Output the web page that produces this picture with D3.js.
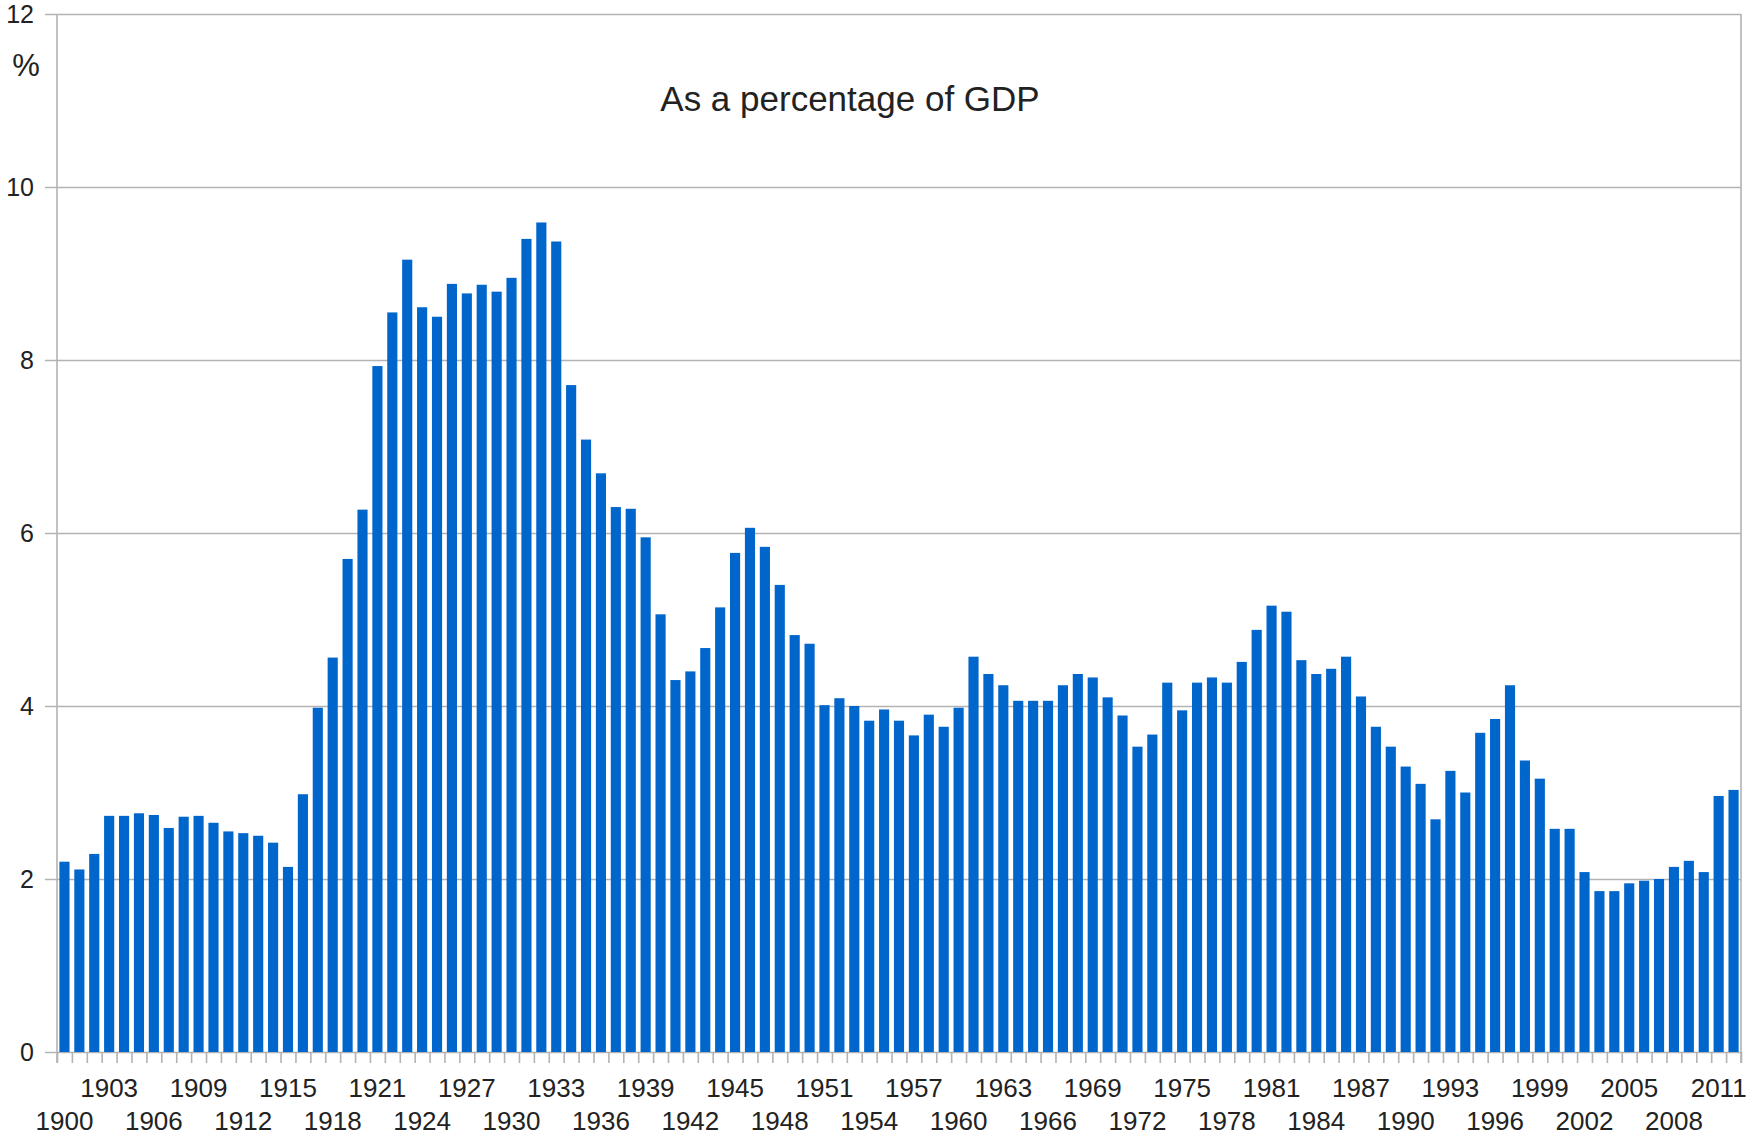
<!DOCTYPE html>
<html>
<head>
<meta charset="utf-8">
<script src="https://cdn.jsdelivr.net/npm/d3@7"></script>
<style>
  body { margin: 0; background: #fff; }
  svg { display: block; }
</style>
</head>
<body>
<script>
// Years and values (% of GDP)
const years = d3.range(1900, 2013);
const values = [
    2.20, 2.11, 2.29, 2.73, 2.73, 2.76, 2.74, 2.59, 2.72, 2.73,
    2.65, 2.55, 2.53, 2.50, 2.42, 2.14, 2.98, 3.98, 4.56, 5.70,
    6.27, 7.93, 8.55, 9.16, 8.61, 8.50, 8.88, 8.77, 8.87, 8.79,
    8.95, 9.40, 9.59, 9.37, 7.71, 7.08, 6.69, 6.30, 6.28, 5.95,
    5.06, 4.30, 4.40, 4.67, 5.14, 5.77, 6.06, 5.84, 5.40, 4.82,
    4.72, 4.01, 4.09, 4.00, 3.83, 3.96, 3.83, 3.66, 3.90, 3.76,
    3.98, 4.57, 4.37, 4.24, 4.06, 4.06, 4.06, 4.24, 4.37, 4.33,
    4.10, 3.89, 3.53, 3.67, 4.27, 3.95, 4.27, 4.33, 4.27, 4.51,
    4.88, 5.16, 5.09, 4.53, 4.37, 4.43, 4.57, 4.11, 3.76, 3.53,
    3.30, 3.10, 2.69, 3.25, 3.00, 3.69, 3.85, 4.24, 3.37, 3.16,
    2.58, 2.58, 2.08, 1.86, 1.86, 1.95, 1.98, 2.00, 2.14, 2.21,
    2.08, 2.96, 3.03
];
const yTicks = [0, 2, 4, 6, 8, 10, 12];
const labelYears = years.filter((y, i) => i % 3 === 0);

const data = years.map((year, i) => ({ year, value: values[i] }));

// Layout
const W = 1748, H = 1138;
const plotLeft = 57, plotRight = 1741, plotTop = 14, plotBottom = 1052;
const gridColor = "#b3b3b3";
const textColor = "#222";
const font = "'Liberation Sans', Arial, sans-serif";

const svg = d3.select("body").append("svg")
    .attr("width", W)
    .attr("height", H)
    .attr("font-family", font);

const x = d3.scaleBand()
    .domain(years)
    .range([plotLeft, plotRight])
    .paddingInner(0.32)
    .paddingOuter(0.16);

// boundary scale for the tick marks between bars
const xEdge = d3.scaleLinear()
    .domain([0, years.length])
    .range([plotLeft, plotRight]);

const y = d3.scaleLinear()
    .domain([0, 12])
    .range([plotBottom, plotTop]);

// Horizontal gridlines + y labels
const yAxis = svg.append("g")
    .attr("transform", `translate(${plotRight},0)`)
    .call(d3.axisLeft(y).tickValues(yTicks).tickSize(plotRight - 45).tickPadding(11).tickFormat(d3.format("d")));
yAxis.select(".domain").remove();
yAxis.selectAll(".tick line").attr("stroke", gridColor).attr("stroke-width", 1.6);
yAxis.selectAll(".tick text")
    .attr("fill", textColor)
    .attr("font-size", 25)
    .attr("font-family", font);

// Bars
svg.append("g")
    .selectAll("rect")
    .data(data)
    .join("rect")
    .attr("x", d => x(d.year))
    .attr("width", x.bandwidth())
    .attr("y", d => y(d.value))
    .attr("height", d => y(0) - y(d.value))
    .attr("fill", "#0066cc");

// Tick marks between bars
const xTickAxis = svg.append("g")
    .attr("transform", `translate(0,${plotBottom})`)
    .call(d3.axisBottom(xEdge).tickValues(d3.range(years.length + 1)).tickSize(11).tickFormat(""));
xTickAxis.select(".domain").remove();
xTickAxis.selectAll(".tick line").attr("stroke", gridColor).attr("stroke-width", 1.6);

// Year labels, staggered on two rows
const xAxis = svg.append("g")
    .attr("transform", `translate(0,${plotBottom})`)
    .call(d3.axisBottom(x).tickValues(labelYears).tickSize(0));
xAxis.select(".domain").remove();
xAxis.selectAll(".tick text")
    .attr("fill", textColor)
    .attr("font-size", 26)
    .attr("font-family", font)
    .attr("dy", 0)
    .attr("y", d => ((d - 1900) / 3) % 2 === 0 ? 78 : 45);

// Left axis line and right border
svg.append("line")
    .attr("x1", plotLeft).attr("x2", plotLeft)
    .attr("y1", plotTop).attr("y2", plotBottom + 11)
    .attr("stroke", gridColor).attr("stroke-width", 1.6);
svg.append("line")
    .attr("x1", plotRight).attr("x2", plotRight)
    .attr("y1", plotTop).attr("y2", plotBottom + 11)
    .attr("stroke", gridColor).attr("stroke-width", 1.6);

// Unit label
svg.append("text")
    .attr("x", 26)
    .attr("y", 76)
    .attr("text-anchor", "middle")
    .attr("font-size", 31)
    .attr("fill", textColor)
    .text("%");

// Title
svg.append("text")
    .attr("x", 850)
    .attr("y", 111)
    .attr("text-anchor", "middle")
    .attr("font-size", 35)
    .attr("fill", textColor)
    .text("As a percentage of GDP");
</script>
</body>
</html>
